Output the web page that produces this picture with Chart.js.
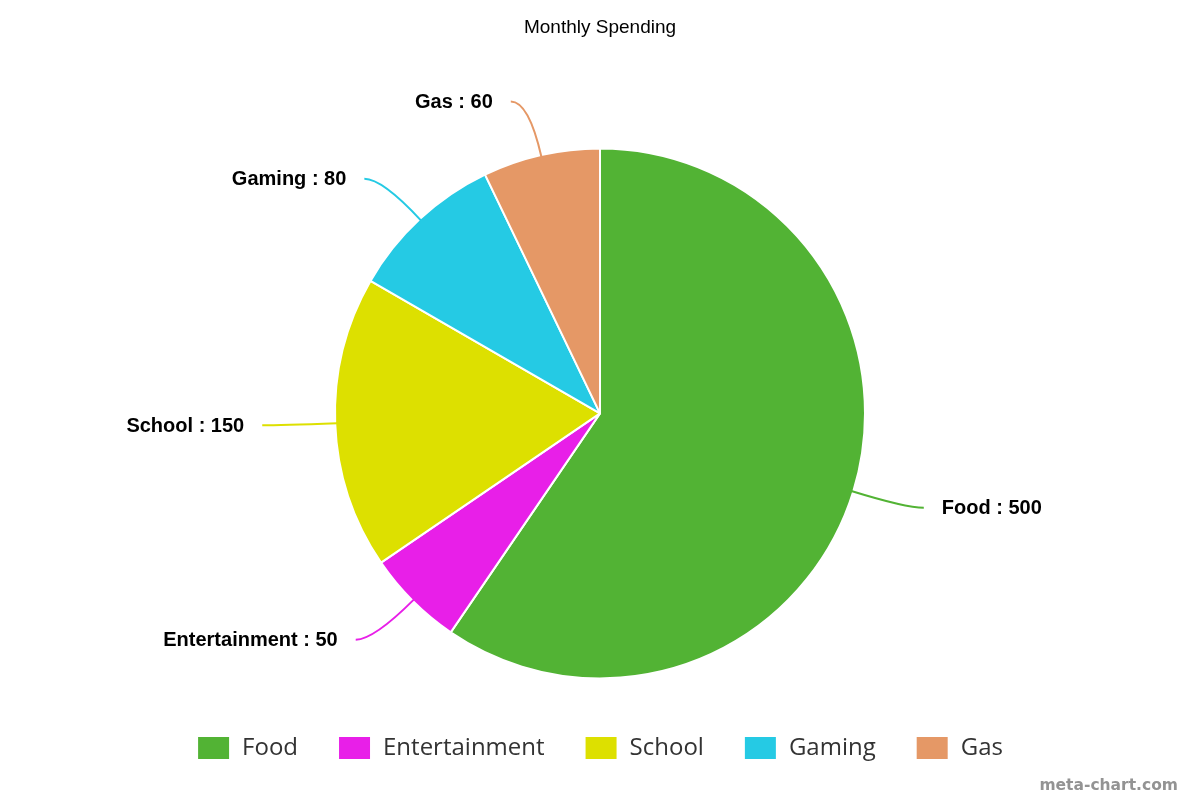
<!DOCTYPE html>
<html>
<head>
<meta charset="utf-8">
<title>Monthly Spending</title>
<script src="https://cdn.jsdelivr.net/npm/chart.js@4.4.0/dist/chart.umd.min.js"></script>
<style>
  html, body { margin: 0; padding: 0; background: #fff; }
  #wrap { width: 1200px; height: 800px; }
</style>
</head>
<body>
<div id="wrap"><canvas id="myChart" width="1200" height="800"></canvas></div>
<script>
'use strict';

/** Data */
let categories = ['Food', 'Entertainment', 'School', 'Gaming', 'Gas'];
let spending = [500, 50, 150, 80, 60];
let sliceColors = ['#52b334', '#e81fe8', '#dde000', '#25cae4', '#e59866'];

// Canvas Element
let ctx = document.getElementById('myChart');

// leader lines + "Name : value" labels outside the slices
let outsideLabels = {
  id: 'outsideLabels',
  afterDatasetsDraw(chart) {
    let c = chart.ctx;
    let meta = chart.getDatasetMeta(0);
    c.save();
    meta.data.forEach(function(arc, i) {
      let mid = (arc.startAngle + arc.endAngle) / 2;
      let r = arc.outerRadius;
      let cos = Math.cos(mid);
      let sin = Math.sin(mid);
      let side = cos >= 0 ? 1 : -1;
      let x0 = arc.x + cos * (r - 2);
      let y0 = arc.y + sin * (r - 2);
      let cx = arc.x + cos * (r + 55);
      let cy = arc.y + sin * (r + 55);
      let x1 = cx + side * 18;
      let y1 = cy;

      c.beginPath();
      c.strokeStyle = sliceColors[i];
      c.lineWidth = 2;
      c.moveTo(x0, y0);
      c.quadraticCurveTo(cx, cy, x1, y1);
      c.stroke();

      c.fillStyle = '#000';
      c.font = 'bold 20px "Liberation Sans", Arial, sans-serif';
      c.textBaseline = 'middle';
      c.textAlign = side > 0 ? 'left' : 'right';
      c.fillText(categories[i] + ' : ' + spending[i], x1 + side * 18, y1 + 1);
    });

    // watermark
    c.fillStyle = '#939393';
    c.font = 'bold 15.5px "DejaVu Sans", sans-serif';
    c.textAlign = 'right';
    c.textBaseline = 'alphabetic';
    c.fillText('meta-chart.com', 1178, 790);
    c.restore();
  }
};

let chartObj = {
  type: 'pie',
  data: {
    labels: categories,
    datasets: [{
      data: spending,
      backgroundColor: sliceColors,
      borderColor: '#ffffff',
      borderWidth: 2,
      radius: 265
    }]
  },
  options: {
    responsive: false,
    animation: false,
    layout: { padding: { bottom: 30 } },
    plugins: {
      title: {
        display: true,
        text: 'Monthly Spending',
        color: '#000',
        font: { family: '"Liberation Sans", Arial, sans-serif', size: 19, weight: 'normal' },
        padding: { top: 16, bottom: 92 }
      },
      legend: {
        position: 'bottom',
        labels: {
          boxWidth: 33,
          boxHeight: 24,
          padding: 40,
          color: '#333',
          font: { family: '"Open Sans", sans-serif', size: 24 }
        }
      },
      tooltip: { enabled: false }
    }
  },
  plugins: [outsideLabels]
};

new Chart(ctx, chartObj);
</script>
</body>
</html>
